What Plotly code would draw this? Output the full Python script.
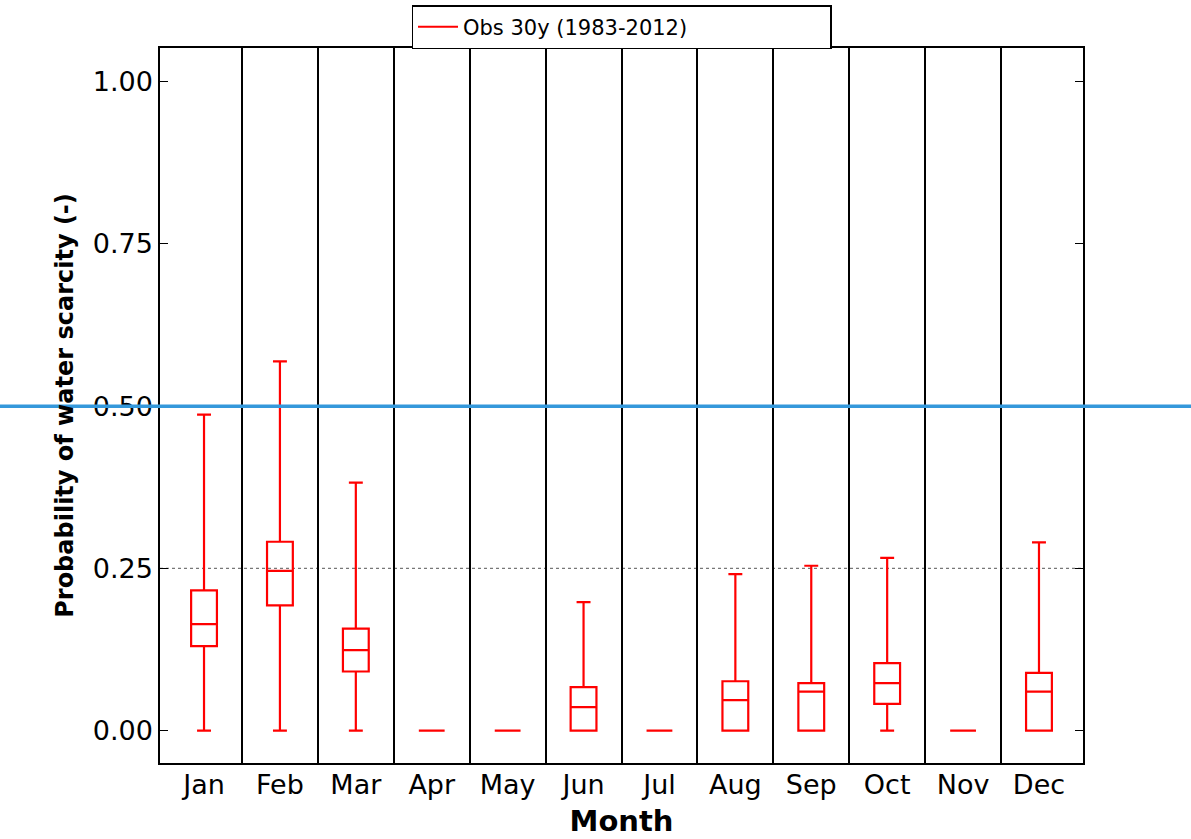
import plotly.graph_objects as go

months = ["Jan", "Feb", "Mar", "Apr", "May", "Jun", "Jul", "Aug", "Sep", "Oct", "Nov", "Dec"]
lower = [0, 0, 0, 0, 0, 0, 0, 0, 0, 0, 0, 0]
q1 = [0.130, 0.193, 0.091, 0, 0, 0, 0, 0, 0, 0.041, 0, 0]
median = [0.164, 0.246, 0.124, 0, 0, 0.036, 0, 0.047, 0.060, 0.073, 0, 0.060]
q3 = [0.216, 0.291, 0.157, 0, 0, 0.067, 0, 0.076, 0.073, 0.104, 0, 0.089]
upper = [0.487, 0.569, 0.382, 0, 0, 0.198, 0, 0.241, 0.254, 0.266, 0, 0.290]
threshold = 0.5
reference_level = 0.25
series_name = "Obs 30y (1983-2012)"

idx = list(range(len(months)))
red = "#ff0000"

fig = go.Figure()
fig.add_trace(go.Box(
    x=idx, q1=q1, median=median, q3=q3, lowerfence=lower, upperfence=upper,
    boxpoints=False, width=0.34, whiskerwidth=0.54,
    line=dict(color=red, width=2.2), fillcolor="rgba(0,0,0,0)",
    showlegend=False, hoverinfo="skip",
))
fig.add_trace(go.Scatter(
    x=[None], y=[None], mode="lines", line=dict(color=red, width=2),
    name=series_name, showlegend=True,
))

fig.add_shape(type="line", xref="paper", yref="y", x0=-0.2, x1=1.2,
              y0=threshold, y1=threshold, line=dict(color="#3498db", width=3.5), layer="above")
fig.add_shape(type="line", xref="paper", yref="y", x0=0, x1=1,
              y0=reference_level, y1=reference_level,
              line=dict(color="#777777", width=1.2, dash="dot"), layer="below")

fig.update_layout(
    width=1191, height=839,
    margin=dict(l=160, r=108, t=48, b=76, autoexpand=False),
    paper_bgcolor="white", plot_bgcolor="white",
    font=dict(family="DejaVu Sans", color="black"),
    legend=dict(
        x=0.5, xanchor="center", y=1 - 5 / 839, yanchor="top", yref="container",
        orientation="h", entrywidth=362, itemwidth=40,
        bordercolor="black", borderwidth=1.5, bgcolor="white",
        font=dict(size=21, family="DejaVu Sans"),
    ),
    xaxis=dict(
        range=[-0.58, 11.58], tickvals=idx, ticktext=months,
        showgrid=False, zeroline=False,
        showline=True, linecolor="black", linewidth=1.5, mirror=True,
        ticks="", tickfont=dict(size=27), ticklabelstandoff=-3,
        minor=dict(tickvals=[i + 0.5 for i in idx[:-1]], showgrid=True,
                   gridcolor="black", gridwidth=1.5, ticks=""),
        title=dict(text="<b>Month</b>", font=dict(size=29), standoff=12),
    ),
    yaxis=dict(
        range=[-0.05, 1.052], tickvals=[0, 0.25, 0.5, 0.75, 1.0], tickformat=".2f",
        showgrid=False, zeroline=False,
        showline=True, linecolor="black", linewidth=1.5, mirror="ticks",
        ticks="inside", ticklen=8, tickcolor="black", tickwidth=1.2,
        tickfont=dict(size=27),
        title=dict(text="<b>Probability of water scarcity (-)</b>", font=dict(size=24), standoff=12),
    ),
)

fig.write_html("out.html", config={"displayModeBar": False},
               post_script="document.body.style.margin='0';")
